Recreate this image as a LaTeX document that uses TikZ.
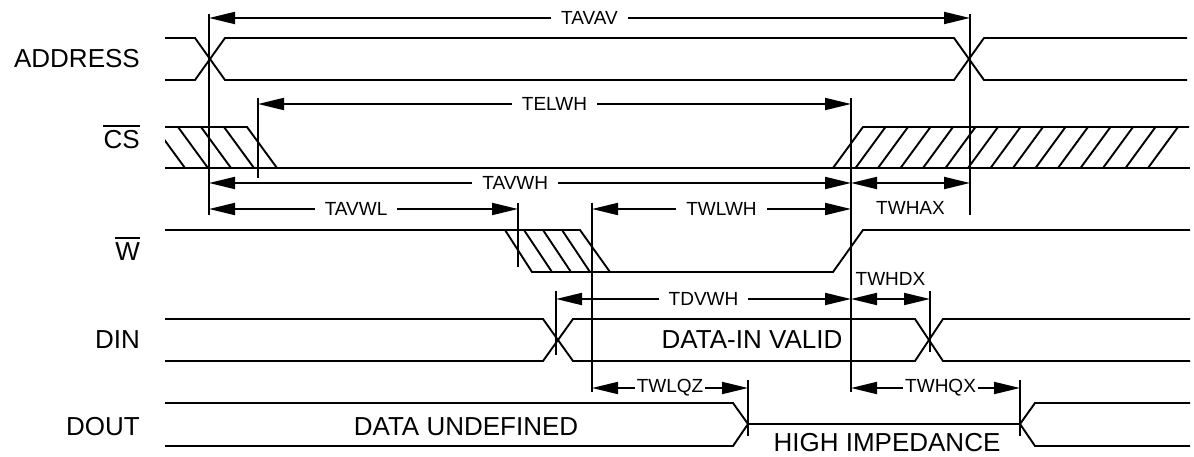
\documentclass[tikz,border=0pt]{standalone}
\usepackage{fontspec}
\setmainfont{Liberation Sans}
\usetikzlibrary{arrows.meta}

\newcommand{\sigfont}{\fontsize{26}{30}\selectfont}
\newcommand{\timfont}{\fontsize{19}{22}\selectfont}

\tikzset{
  wave/.style={line width=1.9pt},
  marker/.style={line width=1.9pt},
  dim/.style={line width=1.9pt, {Triangle[length=26pt,width=12pt]}-{Triangle[length=26pt,width=12pt]}},
  tlabel/.style={font=\timfont, fill=white, inner xsep=10pt, inner ysep=1pt},
  tlabeltight/.style={tlabel, inner xsep=2pt},
  siglabel/.style={font=\sigfont, anchor=base east, inner sep=0pt},
  datatext/.style={font=\sigfont, anchor=base, inner sep=0pt},
}

\begin{document}
\begin{tikzpicture}[x=1pt, y=-1pt]
  \useasboundingbox (0,0) rectangle (1194,457);

  % Signal names
  \node[siglabel] (addr) at (140,68) {ADDRESS};
  \node[siglabel] (cs) at (140,149) {CS};
  \node[siglabel] (we) at (140,261) {W};
  \node[siglabel] (din) at (140,348) {DIN};
  \node[siglabel] (dout) at (140,435) {DOUT};
  \draw[wave] ([yshift=5pt]cs.north west) -- ([yshift=5pt]cs.north east);
  \draw[wave] ([yshift=5pt]we.north west) -- ([yshift=5pt]we.north east);

  % ADDRESS
  \draw[wave] (165,38) -- (195,38) -- (225,80) -- (954,80) -- (984,38) -- (1187,38);
  \draw[wave] (165,80) -- (195,80) -- (225,38) -- (954,38) -- (984,80) -- (1187,80);

  % CS
  \draw[wave] (165,127) -- (247,127) -- (277,168);
  \draw[wave] (165,168) -- (1190,168);
  \draw[wave] (833,168) -- (863,127) -- (1189,127);
  \begin{scope}
    \clip (165,127) -- (247,127) -- (277,168) -- (165,168) -- cycle;
    \foreach \x in {155,178,201,224}
      \draw[wave] (\x,127) -- ++(30,41);
  \end{scope}
  \begin{scope}
    \clip (833,168) -- (863,127) -- (1189,127) -- (1189,168) -- cycle;
    \foreach \k in {1,...,14}
      \draw[wave] ({833+22.5*\k},168) -- ++(30,-41);
  \end{scope}

  % W
  \draw[wave] (165,230) -- (580,230) -- (610,272);
  \draw[wave] (505,230) -- (532,272) -- (833,272) -- (863,230) -- (1190,230);
  \foreach \x in {524,543,562}
    \draw[wave] (\x,230) -- ++(28,42);

  % DIN
  \draw[wave] (165,319) -- (543,319) -- (573,361) -- (915,361) -- (943,319) -- (1190,319);
  \draw[wave] (165,361) -- (543,361) -- (573,319) -- (915,319) -- (943,361) -- (1190,361);
  \node[datatext] (valid) at (752,348) {DATA-IN VALID};

  % DOUT
  \draw[wave] (165,403) -- (733,403) -- (748,424) -- (733,446) -- (165,446);
  \draw[wave] (748,424) -- (1020,424);
  \draw[wave] (1190,403) -- (1035,403) -- (1020,424) -- (1035,446) -- (1190,446);
  \node[datatext] (undef) at (466,435) {DATA UNDEFINED};
  \node[datatext] (hiz) at (887,451) {HIGH IMPEDANCE};

  % Timing marks
  \coordinate (tAV) at (209,0);
  \coordinate (tAX) at (970,0);
  \coordinate (tCS) at (258,0);
  \coordinate (tWH) at (851,0);
  \coordinate (tWF) at (518,0);
  \coordinate (tWL) at (592,0);
  \coordinate (tDV) at (556,0);
  \coordinate (tDX) at (930,0);
  \coordinate (tQZ) at (748,0);
  \coordinate (tQX) at (1020,0);

  \draw[marker] (tAV |- 0,14) -- (tAV |- 0,215);
  \draw[marker] (tAX |- 0,14) -- (tAX |- 0,215);
  \draw[marker] (tCS |- 0,98) -- (tCS |- 0,178);
  \draw[marker] (tWH |- 0,98) -- (tWH |- 0,392);
  \draw[marker] (tWF |- 0,203) -- (tWF |- 0,267);
  \draw[marker] (tWL |- 0,203) -- (tWL |- 0,392);
  \draw[marker] (tDV |- 0,291) -- (tDV |- 0,355);
  \draw[marker] (tDX |- 0,291) -- (tDX |- 0,352);
  \draw[marker] (tQZ |- 0,380) -- (tQZ |- 0,436);
  \draw[marker] (tQX |- 0,380) -- (tQX |- 0,436);

  % Timing parameters
  \draw[dim] (tAV |- 0,18) -- node[tlabel, pos=.50] {TAVAV} (tAX |- 0,18);
  \draw[dim] (tCS |- 0,104) -- node[tlabel] {TELWH} (tWH |- 0,104);
  \draw[dim] (tAV |- 0,183) -- node[tlabel, pos=.477] {TAVWH} (tWH |- 0,183);
  \draw[dim] (tWH |- 0,183) -- node[font=\timfont, inner sep=0pt, below=17pt] {TWHAX} (tAX |- 0,183);
  \draw[dim] (tAV |- 0,209) -- node[tlabel, pos=.476] {TAVWL} (tWF |- 0,209);
  \draw[dim] (tWL |- 0,209) -- node[tlabel] {TWLWH} (tWH |- 0,209);
  \draw[dim] (tDV |- 0,299) -- node[tlabel] {TDVWH} (tWH |- 0,299);
  \draw[dim] (tWH |- 0,299) -- node[font=\timfont, inner sep=0pt, above=13pt] {TWHDX} (tDX |- 0,299);
  \draw[dim] (tWL |- 0,388) -- node[tlabeltight] {TWLQZ} (tQZ |- 0,388);
  \draw[dim] (tWH |- 0,388) -- node[tlabeltight, pos=.53] {TWHQX} (tQX |- 0,388);
\end{tikzpicture}
\end{document}
